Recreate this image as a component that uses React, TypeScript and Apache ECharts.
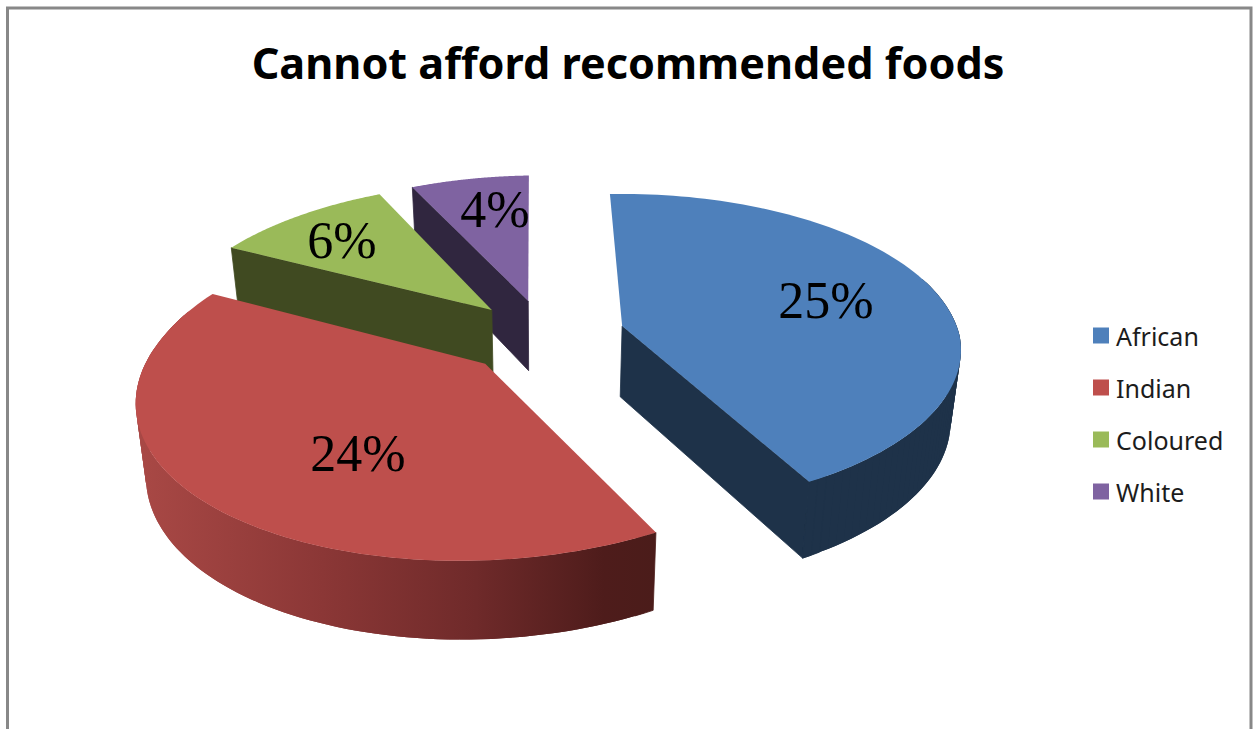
import React, { useEffect, useRef } from "react";
import * as echarts from "echarts";

const categories = ["African", "Indian", "Coloured", "White"];
const percentages = [25, 24, 6, 4];

const topColors = ["#4e80bb", "#be4f4c", "#9aba59", "#7f63a1"];
const wallColors = ["#1e3249", "#6d2a2a", "#404a21", "#30263f"];
const paintOrder = [2, 4, 3, 1];
const labelCentres: number[][] = [
  [826, 300],
  [358, 453],
  [342, 240],
  [495, 209],
];

// Projection of the tilted pie onto the page.
const CX = 545;
const CY = 336;
const RX = 334;
const RY = 156;
const PERSPECTIVE_Y = 0.16;
const PERSPECTIVE_X = 0.008;
const SHEAR_FRONT = 0.095;
const SHEAR_BACK = 0.055;
const EXPLODE = 0.24;
const DEPTH = 71;
const BOTTOM_SHRINK = 0.975;
const START_DEG = -1.8;
const ARC_STEPS = 96;
// Wall pieces facing further away than this are hidden behind the top face.
const BACK_FACING_LIMIT = -0.3;

const total = percentages.reduce((a, b) => a + b, 0);

function project(X: number, Y: number, bottom: boolean): number[] {
  const w = 1 - PERSPECTIVE_Y * Y - PERSPECTIVE_X * X;
  const sy = CY + (RY * Y) / w;
  const dy = sy - CY;
  const sx = CX + (RX * X) / w - (dy > 0 ? SHEAR_FRONT : SHEAR_BACK) * dy;
  if (!bottom) return [sx, sy];
  return [CX + (sx - CX) * BOTTOM_SHRINK, sy + DEPTH / Math.sqrt(w)];
}

function sliceAngles(index: number): number[] {
  let before = 0;
  for (let i = 0; i < index; i++) before += percentages[i];
  const a0 = START_DEG + (before / total) * 360;
  return [a0, a0 + (percentages[index] / total) * 360];
}

function sliceShapes(index: number) {
  const [a0, a1] = sliceAngles(index);
  const mid = (((a0 + a1) / 2) * Math.PI) / 180;
  const ox = EXPLODE * Math.sin(mid);
  const oy = -EXPLODE * Math.cos(mid);
  const top: number[][] = [];
  const low: number[][] = [];
  const facing: number[] = [];
  for (let s = 0; s <= ARC_STEPS; s++) {
    const t = ((a0 + ((a1 - a0) * s) / ARC_STEPS) * Math.PI) / 180;
    const X = ox + Math.sin(t);
    const Y = oy - Math.cos(t);
    top.push(project(X, Y, false));
    low.push(project(X, Y, true));
    facing.push(-Math.cos(t));
  }
  return {
    apexTop: project(ox, oy, false),
    apexLow: project(ox, oy, true),
    top,
    low,
    facing,
  };
}

// A straight wall shows only if its outward side turns towards the viewer.
function edgeFacesViewer(from: number[], to: number[], inner: number[]): boolean {
  const dx = to[0] - from[0];
  const dy = to[1] - from[1];
  const len = Math.hypot(dx, dy);
  let ny = dx / len;
  const nx = -dy / len;
  const side = nx * (inner[0] - from[0]) + ny * (inner[1] - from[1]);
  if (side > 0) ny = -ny;
  return ny > 0.15;
}

function renderSlice(index: number) {
  const { apexTop, apexLow, top, low, facing } = sliceShapes(index);
  const last = top.length - 1;
  const midRim = top[Math.floor(last / 2)];
  const wallFill = wallColors[index];
  const arcFill =
    categories[index] === "Indian"
      ? new echarts.graphic.LinearGradient(
          143,
          0,
          655,
          0,
          [
            { offset: 0, color: "#a84845" },
            { offset: 0.35, color: "#8b3736" },
            { offset: 0.65, color: "#6f2a2a" },
            { offset: 0.9, color: "#4e1c1b" },
            { offset: 1, color: "#4b1c1a" },
          ],
          true
        )
      : wallFill;
  const polygon = (points: number[][], fill: unknown, seal: boolean) => ({
    type: "polygon",
    shape: { points },
    style: seal ? { fill, stroke: fill, lineWidth: 0.8 } : { fill },
  });

  const children: unknown[] = [];
  if (edgeFacesViewer(apexTop, top[0], midRim)) {
    children.push(polygon([apexTop, top[0], low[0], apexLow], wallFill, true));
  }
  if (edgeFacesViewer(apexTop, top[last], midRim)) {
    children.push(polygon([apexTop, top[last], low[last], apexLow], wallFill, true));
  }
  // Each rim piece spans two steps, so the next one covers its soft edge.
  for (let s = 0; s < last; s++) {
    if (facing[s] < BACK_FACING_LIMIT && facing[s + 1] < BACK_FACING_LIMIT) continue;
    const e = Math.min(s + 2, last);
    const m = Math.min(s + 1, last);
    const endPiece = s === 0 || e === last;
    children.push(
      polygon([top[s], top[m], top[e], low[e], low[m], low[s]], arcFill, endPiece)
    );
  }
  children.push(polygon([apexTop, ...top], topColors[index], false));
  children.push({
    type: "text",
    style: {
      text: `${percentages[index]}%`,
      x: labelCentres[index][0],
      y: labelCentres[index][1],
      align: "center",
      verticalAlign: "middle",
      fontFamily: "Liberation Serif",
      fontSize: 52,
      fill: "#000000",
    },
  });
  return { type: "group", children };
}

export default function App() {
  const ref = useRef<HTMLDivElement>(null);

  useEffect(() => {
    const chart = echarts.init(ref.current!, null, { renderer: "svg" });
    chart.setOption({
      animation: false,
      backgroundColor: "#ffffff",
      title: {
        text: "Cannot afford recommended foods",
        left: 623,
        top: 36,
        textAlign: "center",
        textStyle: {
          fontFamily: "Noto Sans",
          fontWeight: "bold",
          fontSize: 43.2,
          color: "#000000",
        },
      },
      legend: {
        data: categories,
        orient: "vertical",
        left: 1093,
        top: 323,
        icon: "rect",
        itemWidth: 16,
        itemHeight: 16,
        itemGap: 27,
        padding: 0,
        selectedMode: false,
        textStyle: {
          fontFamily: "Noto Sans",
          fontSize: 25,
          color: "#1c1c1c",
          padding: [0, 0, 0, 2],
        },
      },
      graphic: [
        {
          type: "polyline",
          silent: true,
          shape: {
            points: [
              [7.5, 740],
              [7.5, 8],
              [1251, 8],
              [1251, 740],
            ],
          },
          style: { stroke: "#888888", lineWidth: 3, fill: "none" },
        },
      ],
      series: categories.map((name, i) => ({
        type: "custom",
        name,
        coordinateSystem: "none",
        z: paintOrder[i],
        itemStyle: { color: topColors[i] },
        data: [percentages[i]],
        renderItem: () => renderSlice(i),
      })),
    });
    return () => chart.dispose();
  }, []);

  return (
    <div
      ref={ref}
      style={{ position: "fixed", left: 0, top: 0, width: 1259, height: 729 }}
    />
  );
}
